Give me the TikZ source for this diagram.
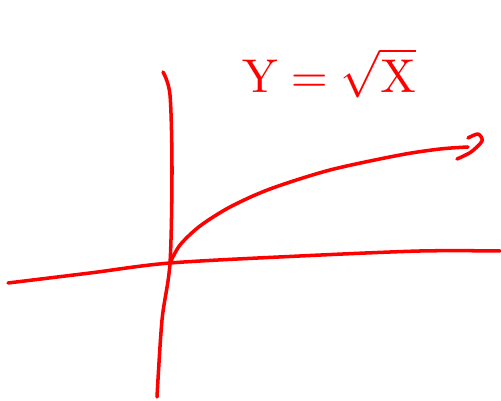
\documentclass[tikz,border=0pt]{standalone}
\usepackage{tikz}
\usetikzlibrary{calc}
\begin{document}
\begin{tikzpicture}[x=0.02cm,y=-0.02cm]
        \tikzset{pen/.style={red, line width=2pt, line cap=round, line join=round}}
        \useasboundingbox (0,0) rectangle (501,401);
        % origin
        \coordinate (O) at (170,263);
        % x and y axes
        \draw[pen] plot[smooth] coordinates {(8,283) (90,273) (O) (300,256) (420,251) (500,251)};
        \draw[pen] plot[smooth] coordinates {(163,72) (170,95) (172,170) (O) (162,320) (157,397)};
        % square root curve
        \draw[pen] plot[smooth] coordinates {(O) (180,245) (200,226) (230,207) (270,189) (330,170) (400,155) (440,149) (468,147)};
        \draw[pen] plot[smooth] coordinates {(468,138) (478,134) (482,141) (471,152) (457,159)};
        \node[red, scale=2.7] (eq) at (329,73) {$\mathrm{Y}=\sqrt{\mathrm{X}}$};
\end{tikzpicture}
\end{document}
